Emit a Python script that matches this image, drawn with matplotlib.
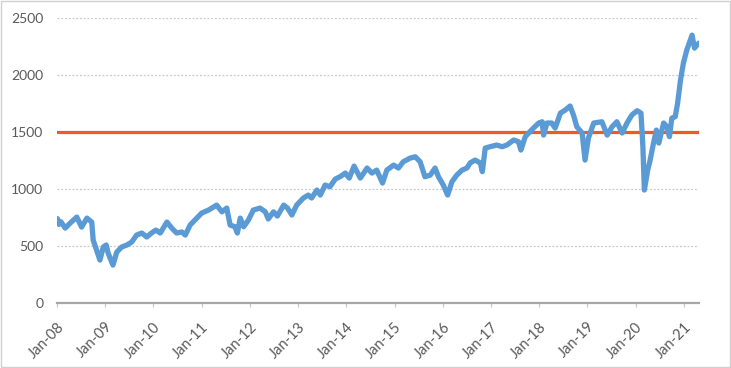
import matplotlib
matplotlib.use("Agg")
import matplotlib.pyplot as plt
from matplotlib.patches import Rectangle

# decimal-year time stamps and index values
years = [2008.01, 2008.04, 2008.08, 2008.17, 2008.27, 2008.41, 2008.51, 2008.62, 2008.72, 2008.75,
         2008.82, 2008.89, 2008.96, 2009.02, 2009.06, 2009.16, 2009.24, 2009.34, 2009.45, 2009.55,
         2009.65, 2009.76, 2009.86, 2009.96, 2010.05, 2010.14, 2010.28, 2010.38, 2010.48, 2010.59,
         2010.66, 2010.76, 2010.90, 2011.00, 2011.14, 2011.31, 2011.42, 2011.52, 2011.59, 2011.69,
         2011.74, 2011.80, 2011.87, 2011.97, 2012.07, 2012.21, 2012.32, 2012.38, 2012.49, 2012.57,
         2012.70, 2012.78, 2012.87, 2012.97, 2013.11, 2013.21, 2013.28, 2013.39, 2013.46, 2013.56,
         2013.66, 2013.77, 2013.87, 2013.98, 2014.06, 2014.16, 2014.29, 2014.43, 2014.53, 2014.63,
         2014.75, 2014.84, 2014.98, 2015.08, 2015.18, 2015.32, 2015.43, 2015.53, 2015.63, 2015.74,
         2015.84, 2015.91, 2016.01, 2016.10, 2016.19, 2016.29, 2016.40, 2016.50, 2016.57, 2016.67,
         2016.78, 2016.82, 2016.88, 2016.98, 2017.12, 2017.23, 2017.33, 2017.47, 2017.57, 2017.62,
         2017.71, 2017.81, 2017.88, 2017.99, 2018.06, 2018.09, 2018.16, 2018.26, 2018.33, 2018.44,
         2018.54, 2018.64, 2018.71, 2018.78, 2018.89, 2018.95, 2019.02, 2019.13, 2019.30, 2019.41,
         2019.51, 2019.61, 2019.72, 2019.82, 2019.92, 2020.03, 2020.11, 2020.15, 2020.18, 2020.25,
         2020.30, 2020.37, 2020.43, 2020.48, 2020.58, 2020.65, 2020.70, 2020.75, 2020.82, 2020.87,
         2020.93, 2020.99, 2021.06, 2021.12, 2021.17, 2021.22, 2021.27, 2021.31]
values = [740, 690, 713, 657, 700, 754, 666, 745, 710, 552,
          465, 377, 491, 509, 438, 333, 447, 491, 509, 535,
          596, 614, 579, 614, 640, 614, 710, 657, 614, 623,
          596, 684, 745, 789, 815, 859, 800, 833, 684, 669,
          614, 745, 669, 728, 815, 833, 800, 737, 800, 763,
          859, 833, 772, 859, 921, 947, 921, 991, 947, 1035,
          1020, 1087, 1108, 1140, 1096, 1201, 1096, 1184, 1140, 1166,
          1052, 1166, 1210, 1184, 1239, 1271, 1283, 1239, 1108, 1122,
          1184, 1108, 1035, 947, 1064, 1122, 1166, 1184, 1230, 1254,
          1228, 1152, 1359, 1371, 1386, 1371, 1386, 1430, 1415, 1342,
          1459, 1503, 1535, 1579, 1590, 1473, 1579, 1579, 1535, 1666,
          1693, 1728, 1649, 1546, 1491, 1254, 1447, 1579, 1590, 1473,
          1546, 1590, 1491, 1579, 1649, 1687, 1666, 1371, 991, 1166,
          1254, 1403, 1517, 1403, 1579, 1546, 1459, 1622, 1634, 1754,
          1956, 2105, 2219, 2292, 2350, 2236, 2263, 2280]
threshold = 1500
tick_years = list(range(2008, 2022))
tick_labels = ["Jan-%02d" % (y % 100) for y in tick_years]
y_ticks = [0, 500, 1000, 1500, 2000, 2500]

plt.rcParams['font.family'] = ['Lato', 'DejaVu Sans']

fig = plt.figure(figsize=(7.31, 3.68), dpi=100)
ax = fig.add_axes([0.078, 0.1766, 0.878, 0.7744])

x_min, x_max = 2008.0, 2021.31
ax.axhline(threshold, color='#EE5B1F', linewidth=2.3, zorder=2)
ax.plot(years, values, color='#5B9BD5', linewidth=3.8, solid_joinstyle='round',
        solid_capstyle='round', zorder=3)

ax.set_xlim(x_min, x_max)
ax.set_ylim(0, 2500)
ax.set_yticks(y_ticks)
ax.set_yticklabels([str(v) for v in y_ticks])
ax.set_xticks(tick_years)
ax.set_xticklabels(tick_labels, rotation=45, ha='right', rotation_mode='anchor')

ax.grid(axis='y', color='#C8C8C8', linestyle=(0, (1.5, 1.5)), linewidth=0.9, zorder=0)
ax.set_axisbelow(True)

for side in ['top', 'right', 'left']:
    ax.spines[side].set_visible(False)
ax.spines['bottom'].set_color('#A6A6A6')
ax.spines['bottom'].set_linewidth(1.6)

ax.tick_params(axis='y', length=0, pad=10, labelsize=10, labelcolor='#595959')
ax.tick_params(axis='x', length=3, width=0.8, color='#C8C8C8', pad=9, labelsize=10.5,
               labelcolor='#595959')

fig.patches.append(Rectangle((0.001, 0.002), 0.997, 0.995, transform=fig.transFigure,
                             fill=False, edgecolor='#D0D0D0', linewidth=1.0))

fig.savefig('out.png', dpi=100)
